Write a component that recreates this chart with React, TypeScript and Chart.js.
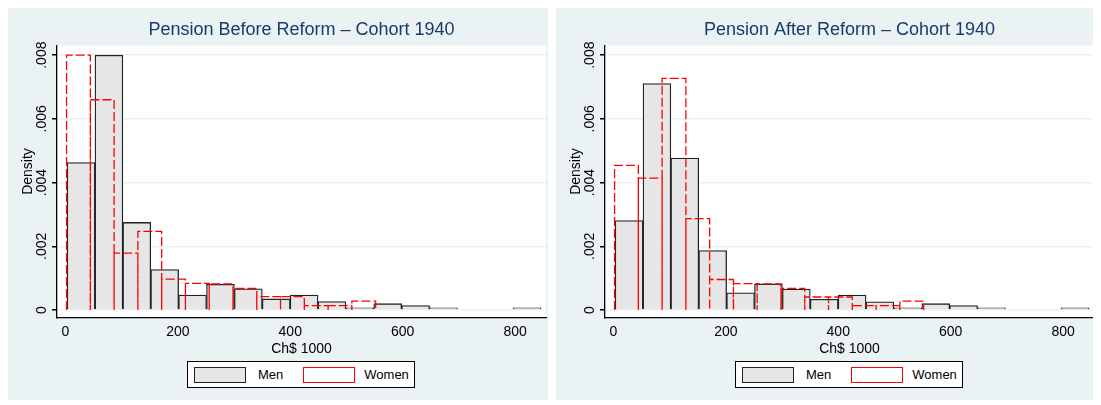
import React, { useEffect, useRef } from "react";
import { Chart, registerables } from "chart.js";
Chart.register(...registerables);

const MEN_START = 3;
const MEN_WIDTH = 49.6;
const WOMEN_START = 2;
const WOMEN_WIDTH = 42.3;

const menBefore = [0.00463, 0.008, 0.00275, 0.00127, 0.00047, 0.00081, 0.00067, 0.00035, 0.00047, 0.00027, 0.00007, 0.0002, 0.00014, 0.00007, 0, 0, 0.00007];
const womenBefore = [0.008, 0.0066, 0.00179, 0.00247, 0.00097, 0.00084, 0.00082, 0.00068, 0.00042, 0.00042, 0.00014, 0.00014, 0.00028];
const menAfter = [0.00281, 0.00711, 0.00477, 0.00187, 0.00054, 0.00082, 0.00066, 0.00034, 0.00047, 0.00026, 0.00007, 0.0002, 0.00014, 0.00007, 0, 0, 0.00007];
const womenAfter = [0.00454, 0.00414, 0.00727, 0.00287, 0.00096, 0.00083, 0.00082, 0.00068, 0.00041, 0.00041, 0.00014, 0.00014, 0.00028];

const yTicks = [0, 0.002, 0.004, 0.006, 0.008];
const yTickLabels = ["0", ".002", ".004", ".006", ".008"];
const xTicks = [0, 200, 400, 600, 800];
const FONT = "'Liberation Sans', Arial, sans-serif";
const BG = "#eaf2f3";

function outline(vals: number[], start: number, w: number) {
  const pts: { x: number; y: number }[] = [];
  vals.forEach((v, i) => {
    const l = start + i * w, r = l + w;
    pts.push({ x: l, y: 0 }, { x: l, y: v }, { x: r, y: v }, { x: r, y: 0 });
  });
  return pts;
}

const bgPlugin = {
  id: "bg",
  beforeDraw(chart: any) {
    const { ctx, chartArea: a, width, height } = chart;
    ctx.save();
    ctx.fillStyle = BG;
    ctx.fillRect(0, 0, width, height);
    ctx.fillStyle = "#fff";
    ctx.fillRect(a.left, a.top, a.right - a.left, a.bottom - a.top);
    ctx.restore();
  },
  afterDraw(chart: any) {
    const { ctx, chartArea: a } = chart;
    const y = chart.scales.y;
    const ax = y.right;
    ctx.save();
    ctx.fillStyle = "#1a3a6b";
    ctx.font = `18px ${FONT}`;
    ctx.textAlign = "center";
    ctx.textBaseline = "middle";
    ctx.fillText(chart.options.plugins.title.text, (a.left + a.right) / 2, 22);
    ctx.fillStyle = "#000";
    ctx.font = `14px ${FONT}`;
    yTicks.forEach((v, i) => {
      const py = y.getPixelForValue(v);
      ctx.save();
      ctx.translate(ax - 15, py);
      ctx.rotate(-Math.PI / 2);
      ctx.fillText(yTickLabels[i], 0, 0);
      ctx.restore();
    });
    ctx.save();
    ctx.translate(ax - 29, (y.top + y.bottom) / 2 - 10);
    ctx.rotate(-Math.PI / 2);
    ctx.fillText("Density", 0, 0);
    ctx.restore();
    ctx.restore();
  },
};

function Panel({ title, men, women }: { title: string; men: number[]; women: number[] }) {
  const ref = useRef<HTMLCanvasElement>(null);
  useEffect(() => {
    const chart = new Chart(ref.current!, {
      type: "bar",
      data: {
        datasets: [
          {
            type: "line",
            data: outline(women, WOMEN_START, WOMEN_WIDTH),
            borderColor: "#ff0000",
            borderWidth: 1.3,
            borderDash: [9, 3],
            pointRadius: 0,
            fill: false,
            order: 0,
          } as any,
          {
            type: "bar",
            data: men.map((v, i) => ({ x: MEN_START + (i + 0.5) * MEN_WIDTH, y: v })),
            backgroundColor: "#e6e6e6",
            borderColor: "#222",
            borderWidth: 1.3,
            barPercentage: 1,
            categoryPercentage: 1,
            order: 1,
          } as any,
        ],
      },
      options: {
        animation: false,
        responsive: false,
        layout: { padding: { left: 0, right: 2, top: 4, bottom: 0 } },
        plugins: {
          legend: { display: false },
          tooltip: { enabled: false },
          title: { display: true, text: title, color: "rgba(0,0,0,0)", font: { family: FONT, size: 18, weight: "normal" }, padding: { top: 4, bottom: 8 } },
        },
        scales: {
          x: {
            type: "linear",
            offset: false,
            min: -15,
            max: 855,
            afterBuildTicks: (s: any) => { s.ticks = xTicks.map((v) => ({ value: v })); },
            ticks: { color: "#000", font: { family: FONT, size: 14 }, padding: 1 },
            grid: { display: false, drawTicks: true, tickLength: 5, tickColor: "#000" } as any,
            border: { color: "#000", width: 1.3 },
            title: { display: true, text: "Ch$ 1000", color: "#000", font: { family: FONT, size: 14 }, padding: 0 },
          },
          y: {
            min: -0.00023,
            max: 0.0083,
            afterBuildTicks: (s: any) => { s.ticks = yTicks.map((v) => ({ value: v })); },
            afterFit: (s: any) => { s.width = 49; },
            ticks: { display: false },
            grid: { color: BG, lineWidth: 1.5, tickLength: 5, tickColor: "#000", drawOnChartArea: true } as any,
            border: { color: "#000", width: 1.3 },
          },
        },
      } as any,
      plugins: [bgPlugin],
    });
    return () => chart.destroy();
  }, []);
  return (
    <div style={{ width: 540, height: 392, background: BG, position: "relative" }}>
      <canvas ref={ref} width={540} height={350} style={{ display: "block" }} />
      <div style={{ position: "absolute", left: 179, top: 353, width: 228, height: 27, background: "#fff", border: "1px solid #000", boxSizing: "border-box", display: "flex", alignItems: "center", fontFamily: FONT, fontSize: 13 }}>
        <span style={{ display: "inline-block", width: 50, height: 14, background: "#e6e6e6", border: "1px solid #222", marginLeft: 6 }} />
        <span style={{ marginLeft: 12 }}>Men</span>
        <span style={{ display: "inline-block", width: 50, height: 14, border: "1px solid #ff0000", marginLeft: 20 }} />
        <span style={{ marginLeft: 9 }}>Women</span>
      </div>
    </div>
  );
}

export default function App() {
  return (
    <div style={{ display: "flex", gap: 8, width: 1088 }}>
      <Panel title="Pension Before Reform – Cohort 1940" men={menBefore} women={womenBefore} />
      <Panel title="Pension After Reform – Cohort 1940" men={menAfter} women={womenAfter} />
    </div>
  );
}
